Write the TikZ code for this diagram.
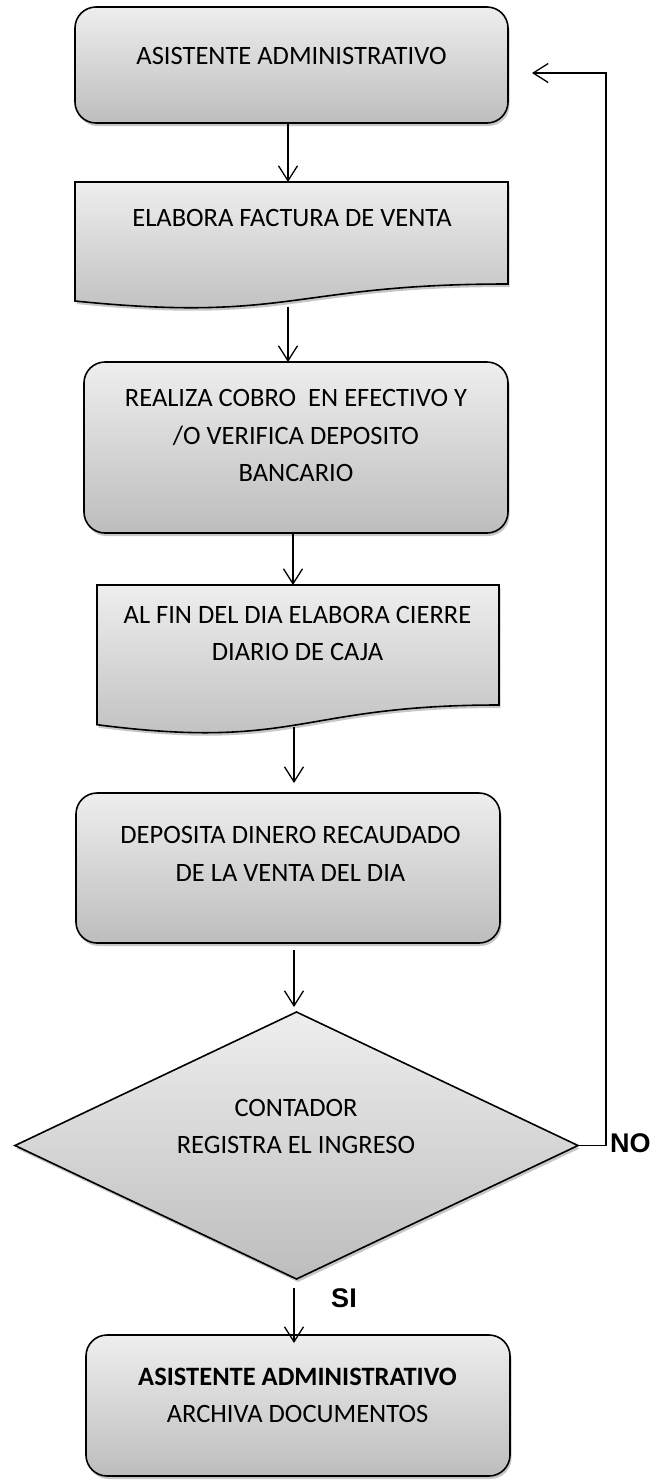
\documentclass[tikz,border=0pt]{standalone}
\usepackage{fontspec}
\setmainfont{Carlito}
\newfontfamily\arialf{Liberation Sans}
\usetikzlibrary{shapes.geometric,arrows.meta,shadows}
\definecolor{gtop}{RGB}{238,238,238}
\definecolor{gbot}{RGB}{189,189,189}
\tikzset{
  shapestyle/.style={draw=black, line width=1.6pt, top color=gtop, bottom color=gbot,
    drop shadow={shadow xshift=1.5pt, shadow yshift=-3pt, opacity=0.22, fill=black}},
  procbox/.style={shapestyle, rectangle, rounded corners=21pt, inner sep=0pt, outer sep=0pt},
  anchorbox/.style={rectangle, draw=none, inner sep=0pt, outer sep=0pt},
  decbox/.style={shapestyle, diamond, inner sep=0pt, outer sep=0pt},
  txt/.style={font=\fontsize{26.5}{37.5}\selectfont, align=center, inner sep=0pt},
  lbl/.style={font=\arialf\bfseries\fontsize{27}{30}\selectfont, inner sep=0pt},
  conn/.style={line width=1.3pt, -{Straight Barb[length=15pt,width=19pt,line width=1.3pt]}}
}
\begin{document}
\begin{tikzpicture}[x=1pt,y=-1pt]
\useasboundingbox (0,0) rectangle (663,1481);

% box 1
\node[procbox, minimum width=433pt, minimum height=116pt] (n1) at (291.5,65) {};
% document 2
\node[anchorbox, minimum width=433pt, minimum height=125pt] (n2) at (291.5,244.5) {};
\path[shapestyle] (75,182) -- (508,182) -- (508,284) .. controls (291.5,284) and (291.5,323) .. (75,301) -- cycle;
% box 3
\node[procbox, minimum width=424pt, minimum height=171pt] (n3) at (296,447.5) {};
% document 4
\node[anchorbox, minimum width=402pt, minimum height=142pt] (n4) at (298,656) {};
\path[shapestyle] (97,585) -- (499,585) -- (499,705) .. controls (298,705) and (298,750.7) .. (97,724.7) -- cycle;
% box 5
\node[procbox, minimum width=424pt, minimum height=150pt] (n5) at (288,868) {};
% decision
\node[decbox, minimum width=563pt, minimum height=267pt, aspect=2.11] (d) at (296.5,1145.5) {};
% box 6
\node[procbox, minimum width=424pt, minimum height=141pt] (n6) at (298,1405.5) {};

% texts
\node[txt] (n1t) at (291.5,56) {ASISTENTE ADMINISTRATIVO};
\node[txt] (n2t) at (292,218) {ELABORA FACTURA DE VENTA};
\node[txt] (n3t) at (296,435.5) {REALIZA COBRO\ \ EN EFECTIVO Y\\/O VERIFICA DEPOSITO\\BANCARIO};
\node[txt] (n4t) at (297.5,633.5) {AL FIN DEL DIA ELABORA CIERRE\\DIARIO DE CAJA};
\node[txt] (n5t) at (290.5,854) {DEPOSITA DINERO RECAUDADO\\DE LA VENTA DEL DIA};
\node[txt] (dt) at (296,1126.5) {CONTADOR\\REGISTRA EL INGRESO};
\node[txt] (n6t) at (297.5,1395.5) {\textbf{ASISTENTE ADMINISTRATIVO}\\ARCHIVA DOCUMENTOS};

% connectors
\draw[conn] ([xshift=-3.5pt]n1.south) -- ([xshift=-3.5pt]n1.south |- n2.north);
\draw[conn] ([xshift=-3.5pt]n2.south) -- ([xshift=-3.5pt]n2.south |- n3.north);
\draw[conn] ([xshift=-3pt]n3.south) -- ([xshift=-3pt]n3.south |- n4.north);
\draw[conn, shorten >=10pt] ([xshift=-4pt]n4.south) -- ([xshift=-4pt]n4.south |- n5.north);
\draw[conn, shorten <=7pt, shorten >=5pt] ([xshift=6pt]n5.south) -- ([xshift=6pt]n5.south |- d.north);
\draw[conn, shorten <=9pt, shorten >=-8pt] ([xshift=-2.5pt]d.south) -- ([xshift=-2.5pt]d.south |- n6.north);

\coordinate (ret) at (532,73);
\draw[conn] (d.east) -- ++(28,0) |- (ret);

\node[lbl, anchor=west] (no) at (610,1143) {NO};
\node[lbl] (si) at (344,1298) {SI};
\end{tikzpicture}
\end{document}
